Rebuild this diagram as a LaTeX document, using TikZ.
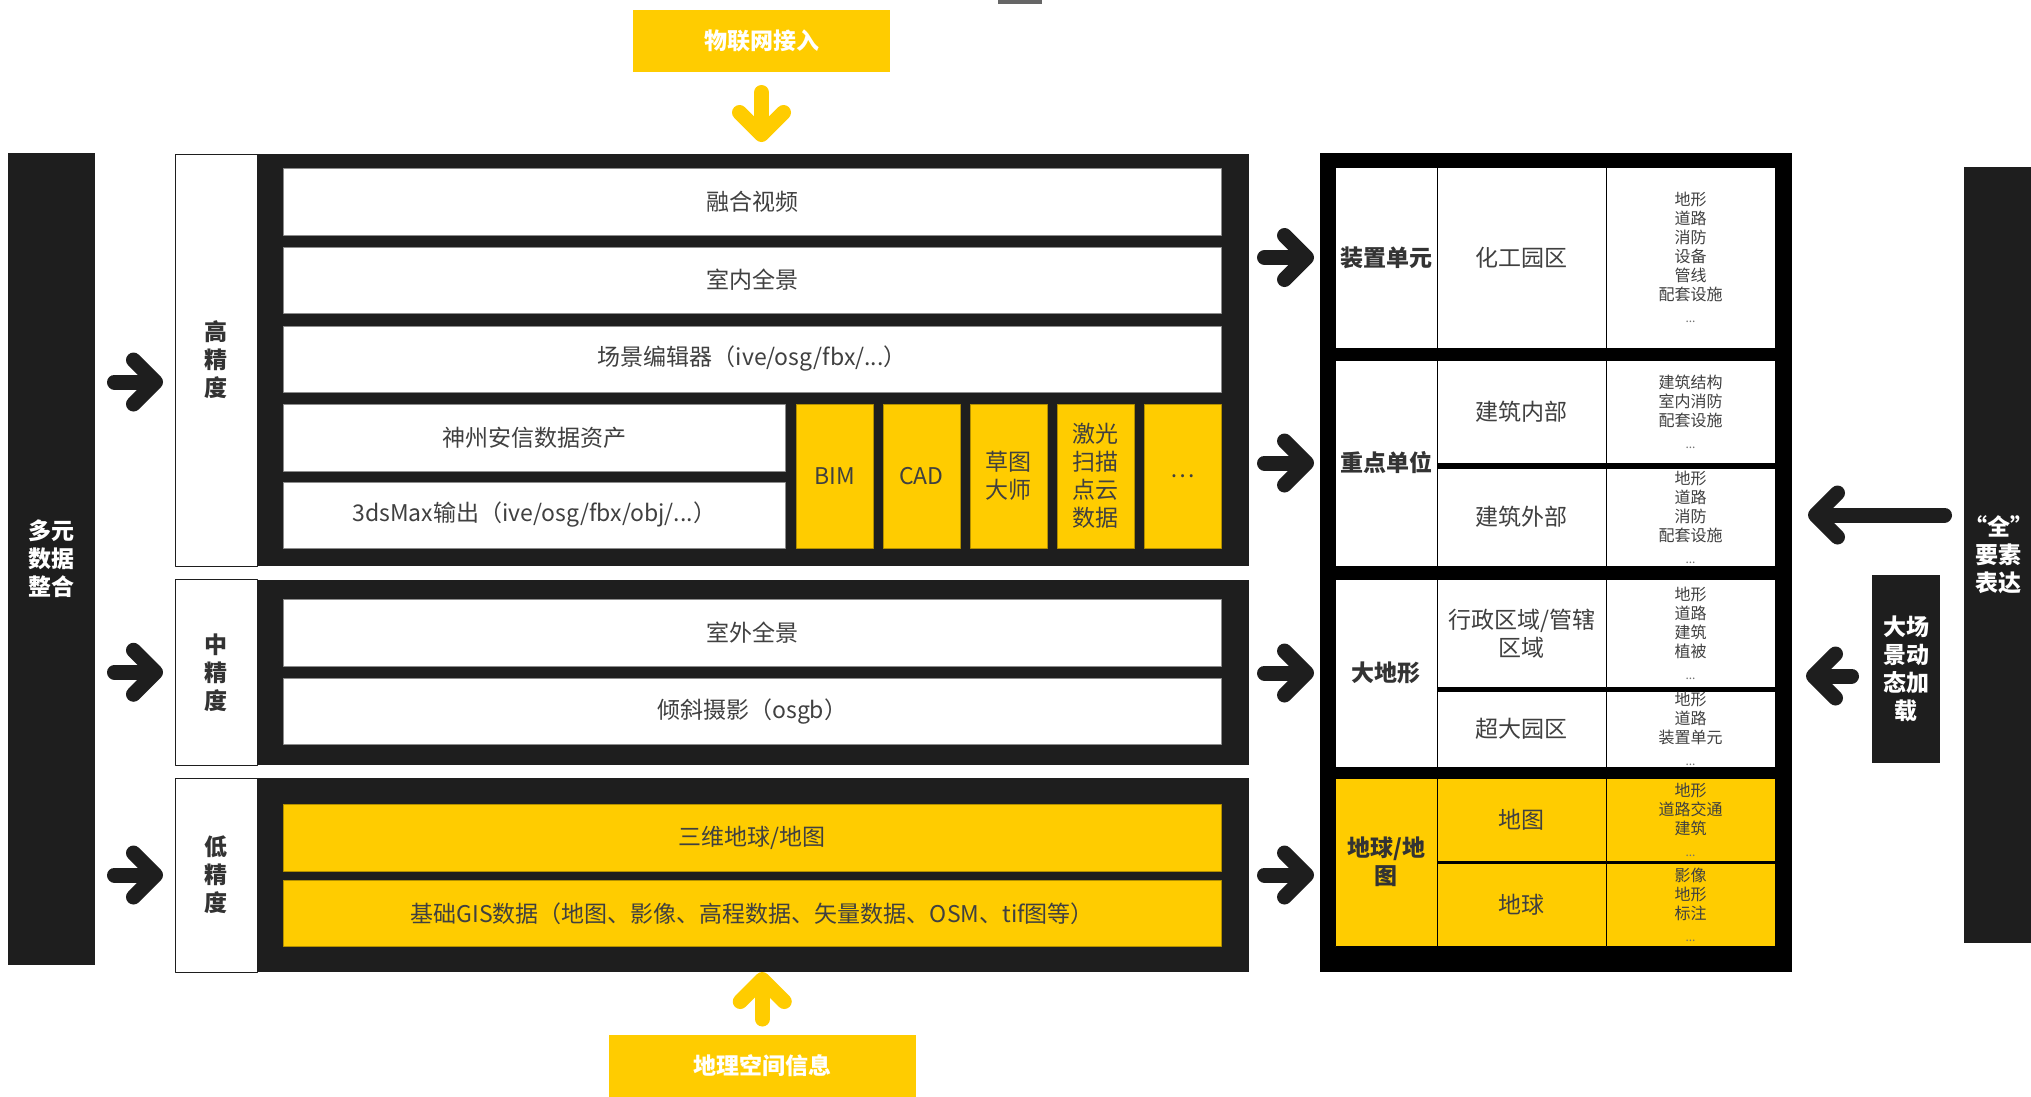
\documentclass[tikz,border=0pt]{standalone}
\usepackage{fontspec}
\setmainfont{Noto Sans CJK SC}
\usetikzlibrary{arrows.meta}
\definecolor{huang}{HTML}{FFCC00}
\definecolor{hei}{HTML}{1E1E1E}
\definecolor{zi}{HTML}{404040}
\def\moreitems{{\fontsize{12}{12}\selectfont\color{black!55}...}}

\begin{document}
\begin{tikzpicture}[x=1pt, y=-1pt, line join=round, line cap=round,
    box/.style={anchor=north west, inner sep=0pt, outer sep=0pt, align=center},
    sz/.style 2 args={minimum width=#1pt, minimum height=#2pt},
    lab/.style={font=\fontsize{23}{28}\selectfont\bfseries},
    txt/.style={font=\fontsize{23}{28}\selectfont, text=zi},
    lst/.style={font=\fontsize{16}{19}\selectfont, text=zi},
    dark/.style={box, fill=hei, text=white, lab},
    lvl/.style={box, fill=white, draw=hei, line width=1pt, text=black!80, lab},
    frame/.style={box, fill=hei},
    wrow/.style={box, fill=white, draw=black!45, line width=0.8pt, txt},
    yrow/.style={box, fill=huang, draw=huang!70!black, line width=0.8pt, txt},
    tcell/.style={box, fill=white, draw=black, line width=1pt},
    ycell/.style={box, fill=huang, draw=black, line width=1pt},
    fat/.style={draw=hei, line width=15pt, -{Straight Barb[round, length=22pt, width=44pt]}},
    yfat/.style={fat, draw=huang}]
    \useasboundingbox (0,0) rectangle (2031,1096);
    \fill[black!60] (998,0) rectangle (1042,4);

    % sources
    \node[box, fill=huang, text=white, lab, sz={257}{62}] (iot) at (633,10) {物联网接入};
    \node[box, fill=huang, text=white, lab, sz={306.5}{63}] (geo) at (609,1034.5) {地理空间信息};
    \node[dark, sz={87}{811.5}] (multi) at (8,153) {多元\\数据\\整合};

    % high precision
    \node[lvl, sz={82}{412}] (hilab) at (175,154) {高\\精\\度};
    \node[frame, sz={992}{412}] (hifr) at (257,154) {};
    \node[wrow, sz={937.5}{67}] (vid) at (283.5,168) {融合视频};
    \node[wrow, sz={937.5}{66}] (indoor) at (283.5,247) {室内全景};
    \node[wrow, sz={937.5}{66}] (editor) at (283.5,326) {场景编辑器（ive/osg/fbx/...）};
    \node[wrow, sz={501.5}{67}] (asset) at (283.5,404) {神州安信数据资产};
    \node[wrow, sz={501.5}{66}] (max) at (283.5,482) {3dsMax输出（ive/osg/fbx/obj/...）};
    \foreach \x/\t [count=\i] in {796/BIM, 883/CAD, 970/{草图\\大师}, 1057/{激光\\扫描\\点云\\数据}, 1144/\dots}
        \node[yrow, sz={77}{144}] (fmt\i) at (\x,404) {\t};

    % medium precision
    \node[lvl, sz={82}{185.5}] (midlab) at (175,579.5) {中\\精\\度};
    \node[frame, sz={992}{185.5}] (midfr) at (257,579.5) {};
    \node[wrow, sz={937.5}{67}] (outdoor) at (283.5,599) {室外全景};
    \node[wrow, sz={937.5}{66.5}] (oblique) at (283.5,678) {倾斜摄影（osgb）};

    % low precision
    \node[lvl, sz={82}{194}] (lowlab) at (175,778) {低\\精\\度};
    \node[frame, sz={992}{194}] (lowfr) at (257,778) {};
    \node[yrow, sz={937.5}{66.5}] (earth) at (283.5,804.5) {三维地球/地图};
    \node[yrow, sz={937.5}{66}] (gis) at (283.5,880.5) {基础GIS数据（地图、影像、高程数据、矢量数据、OSM、tif图等）};

    % scene table
    \node[box, fill=black, sz={472}{819}] (tab) at (1320,153) {};
    \node[tcell, lab, text=black!80, sz={102.5}{181}] (unit) at (1335,167) {装置单元};
    \node[tcell, txt, sz={168.5}{181}] (chem) at (1437.5,167) {化工园区};
    \node[tcell, lst, sz={169}{181}] (cheml) at (1606,167) {地形\\道路\\消防\\设备\\管线\\配套设施\\[3pt]\moreitems};

    \node[tcell, lab, text=black!80, sz={102.5}{206}] (key) at (1335,360) {重点单位};
    \node[tcell, txt, sz={168.5}{103}] (inner) at (1437.5,360) {建筑内部};
    \node[tcell, lst, sz={169}{103}] (innerl) at (1606,360) {建筑结构\\室内消防\\配套设施\\[3pt]\moreitems};
    \node[tcell, txt, sz={168.5}{98}] (outer) at (1437.5,468) {建筑外部};
    \node[tcell, lst, sz={169}{98}] (outerl) at (1606,468) {地形\\道路\\消防\\配套设施\\[3pt]\moreitems};

    \node[tcell, lab, text=black!80, sz={102.5}{188}] (terrain) at (1335,579) {大地形};
    \node[tcell, txt, sz={168.5}{108.5}] (admin) at (1437.5,579) {行政区域/管辖\\区域};
    \node[tcell, lst, sz={169}{108.5}] (adminl) at (1606,579) {地形\\道路\\建筑\\植被\\[3pt]\moreitems};
    \node[tcell, txt, sz={168.5}{75.5}] (bigpark) at (1437.5,691.5) {超大园区};
    \node[tcell, lst, sz={169}{75.5}] (bigparkl) at (1606,691.5) {地形\\道路\\装置单元\\[3pt]\moreitems};

    \node[ycell, lab, text=black!80, sz={102.5}{168.5}] (globe) at (1335,778) {地球/地\\图};
    \node[ycell, txt, sz={168.5}{83.5}] (map) at (1437.5,778) {地图};
    \node[ycell, lst, sz={169}{83.5}] (mapl) at (1606,778) {地形\\道路交通\\建筑\\[3pt]\moreitems};
    \node[ycell, txt, sz={168.5}{83}] (ball) at (1437.5,863.5) {地球};
    \node[ycell, lst, sz={169}{83}] (balll) at (1606,863.5) {影像\\地形\\标注\\[3pt]\moreitems};

    % display side
    \node[dark, sz={68}{776}] (quan) at (1964,167) {“全”\\要素\\表达};
    \node[dark, sz={68}{188}] (dachang) at (1872,574.5) {大场\\景动\\态加\\载};

    % arrows
    \coordinate (ahi) at (0,382);
    \coordinate (aquan) at (0,515);
    \coordinate (adach) at (0,676);
    \draw[yfat, shorten <=20.5pt, shorten >=12pt] (iot.south) -- (iot.south |- hifr.north);
    \draw[yfat, shorten <=15.5pt] (geo.north) -- (geo.north |- lowfr.south);
    \draw[fat, shorten <=19.5pt, shorten >=12pt] (multi.east |- ahi) -- (hilab.west |- ahi);
    \draw[fat, shorten <=19.5pt, shorten >=12pt] (multi.east |- midlab) -- (midlab);
    \draw[fat, shorten <=19.5pt, shorten >=12pt] (multi.east |- lowlab) -- (lowlab);
    \draw[fat, shorten <=15.5pt, shorten >=6pt] (hifr.east |- unit) -- (tab.west |- unit);
    \draw[fat, shorten <=15.5pt, shorten >=6pt] (hifr.east |- key) -- (tab.west |- key);
    \draw[fat, shorten <=15.5pt, shorten >=6pt] (midfr.east |- terrain) -- (tab.west |- terrain);
    \draw[fat, shorten <=15.5pt, shorten >=6pt] (lowfr.east) -- (tab.west |- lowfr.east);
    \draw[fat, shorten <=19.5pt, shorten >=16pt] (quan.west |- aquan) -- (tab.east |- aquan);
    \draw[fat, shorten <=20.5pt, shorten >=14pt] (dachang.west |- adach) -- (tab.east |- adach);
\end{tikzpicture}
\end{document}
